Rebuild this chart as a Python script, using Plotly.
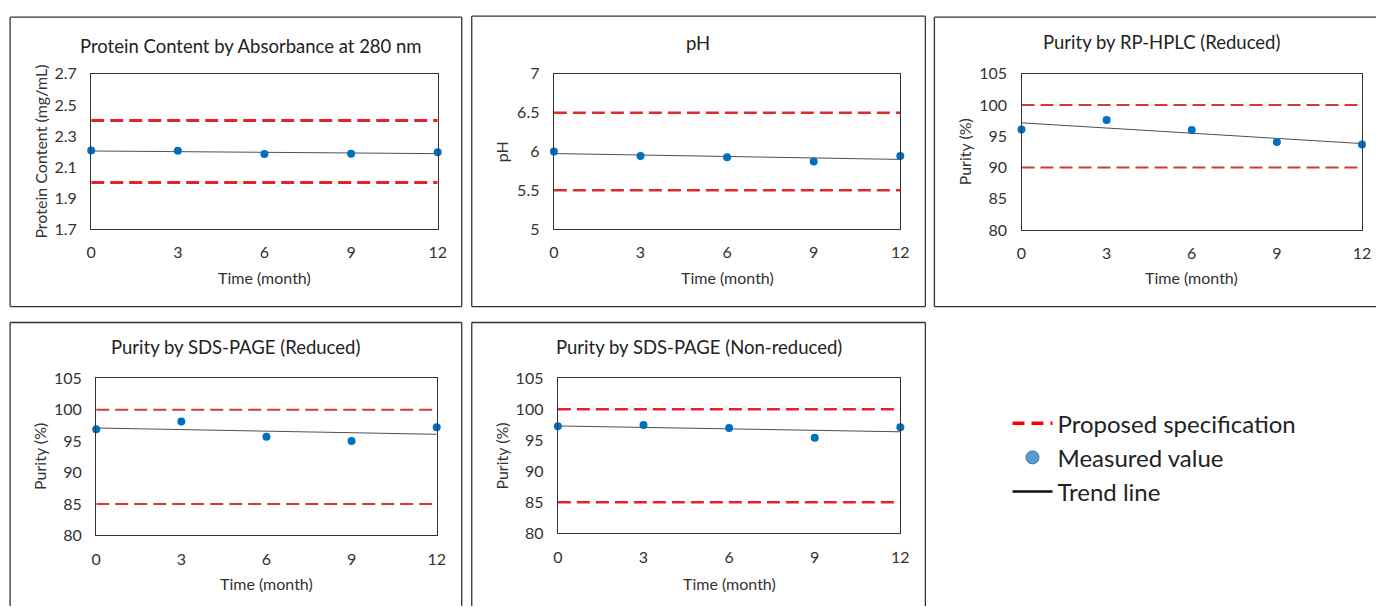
import numpy as np
import plotly.graph_objects as go

# The captured page shows the figure offset by the 8px body margin and
# scaled by (1377/1393, 607/623); positions are given in picture pixels
# and converted to figure coordinates below.
PAGE_W, PAGE_H = 1377, 607
OFF = 8
SX, SY = PAGE_W / (PAGE_W + 2 * OFF), PAGE_H / (PAGE_H + 2 * OFF)
W, H = PAGE_W + OFF, PAGE_H + OFF

months = [0, 3, 6, 9, 12]
tick_months = [0, 3, 6, 9, 12]

titles = [
    "Protein Content by Absorbance at 280 nm",
    "pH",
    "Purity by RP-HPLC (Reduced)",
    "Purity by SDS-PAGE (Reduced)",
    "Purity by SDS-PAGE (Non-reduced)",
]
y_titles = ["Protein Content (mg/mL)", "pH", "Purity (%)", "Purity (%)", "Purity (%)"]

protein = [2.206, 2.204, 2.183, 2.185, 2.194]
ph = [6.0, 5.94, 5.925, 5.87, 5.94]
rp_hplc = [96.1, 97.6, 96.0, 94.1, 93.7]
sds_red = [96.9, 98.1, 95.7, 95.0, 97.2]
sds_nonred = [97.25, 97.45, 97.0, 95.4, 97.1]
values = [protein, ph, rp_hplc, sds_red, sds_nonred]

spec_low = [2.0, 5.5, 90, 85, 85]
spec_high = [2.4, 6.5, 100, 100, 100]

y_ranges = [(1.7, 2.7), (5, 7), (80, 105), (80, 105), (80, 105)]
y_ticks = [
    [1.7, 1.9, 2.1, 2.3, 2.5, 2.7],
    [5, 5.5, 6, 6.5, 7],
    [80, 85, 90, 95, 100, 105],
    [80, 85, 90, 95, 100, 105],
    [80, 85, 90, 95, 100, 105],
]

# layout (picture pixels)
plot_boxes = [  # x0, x1, y0(top), y1(bottom)
    (94, 440, 72, 228),
    (556, 902, 72, 228),
    (1023, 1363, 72, 229),
    (99, 439, 378, 536),
    (560, 902, 378, 534),
]
panel_boxes = [
    (13, 464, 15, 306, "ltrb"),
    (474, 927, 14, 306, "ltrb"),
    (936, 1377, 15, 306, "ltb"),
    (13, 464, 322, 607, "ltr"),
    (474, 927, 322, 607, "ltr"),
]
title_pos = [(254, 44), (700, 41), (1163, 40), (238, 347), (701, 347)]
ytitle_x = [43, 504, 967, 43, 504]
xtitle_y = [277, 277, 277, 584, 584]
spec_width = [3, 2.5, 2, 2, 2.5]
spec_color = ["#E8202A", "#E02A2A", "#D3393B", "#D3393B", "#E8202A"]

FONT = "Lato, 'Open Sans', sans-serif"
BLUE = "#0070C0"

def px(x):
    return min(max((x / SX - OFF) / W, 0), 1)

def py(y):
    return min(max(1 - (y / SY - OFF) / H, 0), 1)

fig = go.Figure()
annotations = []
shapes = []

for i in range(5):
    n = i + 1
    xa = "x" if n == 1 else f"x{n}"
    ya = "y" if n == 1 else f"y{n}"
    x0, x1, y0, y1 = plot_boxes[i]

    for val in (spec_high[i], spec_low[i]):
        fig.add_trace(go.Scatter(
            x=[months[0], months[-1]], y=[val, val], mode="lines",
            line=dict(color=spec_color[i], width=spec_width[i], dash="13px,6px"),
            xaxis=xa, yaxis=ya, name="Proposed specification",
            legendgroup="spec", showlegend=False, hoverinfo="skip",
        ))

    slope, intercept = np.polyfit(months, values[i], 1)
    trend = [slope * m + intercept for m in (months[0], months[-1])]
    fig.add_trace(go.Scatter(
        x=[months[0], months[-1]], y=trend, mode="lines",
        line=dict(color="#505050", width=1),
        xaxis=xa, yaxis=ya, name="Trend line", legendgroup="trend",
        showlegend=False, hoverinfo="skip",
    ))
    fig.add_trace(go.Scatter(
        x=months, y=values[i], mode="markers",
        marker=dict(color=BLUE, size=8),
        xaxis=xa, yaxis=ya, name="Measured value", legendgroup="meas",
        showlegend=False, cliponaxis=False,
    ))

    xkey = "xaxis" if n == 1 else f"xaxis{n}"
    ykey = "yaxis" if n == 1 else f"yaxis{n}"
    fig.layout[xkey] = dict(
        domain=[px(x0), px(x1)], range=[0, 12], anchor=ya,
        tickvals=tick_months, ticktext=[str(t) for t in tick_months],
        showline=True, mirror=True, linecolor="#333", linewidth=1.4,
        showgrid=False, zeroline=False, ticks="outside", ticklen=9,
        tickcolor="rgba(0,0,0,0)", tickfont=dict(family=FONT, size=16, color="#333"),
    )
    fig.layout[ykey] = dict(
        domain=[py(y1), py(y0)], range=list(y_ranges[i]), anchor=xa,
        tickvals=y_ticks[i], ticktext=[f"{t:g}" for t in y_ticks[i]],
        showline=True, mirror=True, linecolor="#333", linewidth=1.4,
        showgrid=False, zeroline=False, ticks="outside", ticklen=10,
        tickcolor="rgba(0,0,0,0)", tickfont=dict(family=FONT, size=16, color="#333"),
    )

    tx, ty = title_pos[i]
    annotations.append(dict(text=titles[i], x=px(tx), y=py(ty), xref="paper", yref="paper",
                            showarrow=False, xanchor="center", yanchor="middle",
                            font=dict(family=FONT, size=18.5, color="#222")))
    annotations.append(dict(text="Time (month)", x=px((x0 + x1) / 2), y=py(xtitle_y[i]),
                            xref="paper", yref="paper", showarrow=False,
                            xanchor="center", yanchor="middle",
                            font=dict(family=FONT, size=16, color="#333")))
    annotations.append(dict(text=y_titles[i], x=px(ytitle_x[i]), y=py((y0 + y1) / 2),
                            xref="paper", yref="paper", showarrow=False, textangle=-90,
                            xanchor="center", yanchor="middle",
                            font=dict(family=FONT, size=16, color="#333")))

    bx0, bx1, by0, by1, sides = panel_boxes[i]
    segs = {
        "l": (bx0, by0, bx0, by1),
        "t": (bx0, by0, bx1, by0),
        "r": (bx1, by0, bx1, by1),
        "b": (bx0, by1, bx1, by1),
    }
    for s in sides:
        a, b, c, d = segs[s]
        shapes.append(dict(type="line", xref="paper", yref="paper",
                           x0=px(a), y0=py(b), x1=px(c), y1=py(d),
                           line=dict(color="#333", width=1.3)))

# legend entries
fig.add_trace(go.Scatter(x=[None], y=[None], mode="lines",
                         line=dict(color="#FF0000", width=3.5, dash="12px,7px"),
                         name="Proposed specification", legendgroup="spec", showlegend=True))
fig.add_trace(go.Scatter(x=[None], y=[None], mode="markers",
                         marker=dict(color="#5B9BD5", size=13, line=dict(color="#41719C", width=1)),
                         name="Measured value", legendgroup="meas", showlegend=True))
fig.add_trace(go.Scatter(x=[None], y=[None], mode="lines",
                         line=dict(color="#111", width=2.5),
                         name="Trend line", legendgroup="trend", showlegend=True))

fig.update_layout(
    width=W, height=H, margin=dict(l=0, r=0, t=0, b=0),
    paper_bgcolor="white", plot_bgcolor="white",
    annotations=annotations, shapes=shapes,
    legend=dict(x=px(1009), y=py(401), xanchor="left", yanchor="top",
                font=dict(family=FONT, size=24, color="#222"),
                tracegroupgap=0, bgcolor="rgba(0,0,0,0)", itemwidth=40,
                traceorder="grouped"),
)

fig.write_html("out.html")
